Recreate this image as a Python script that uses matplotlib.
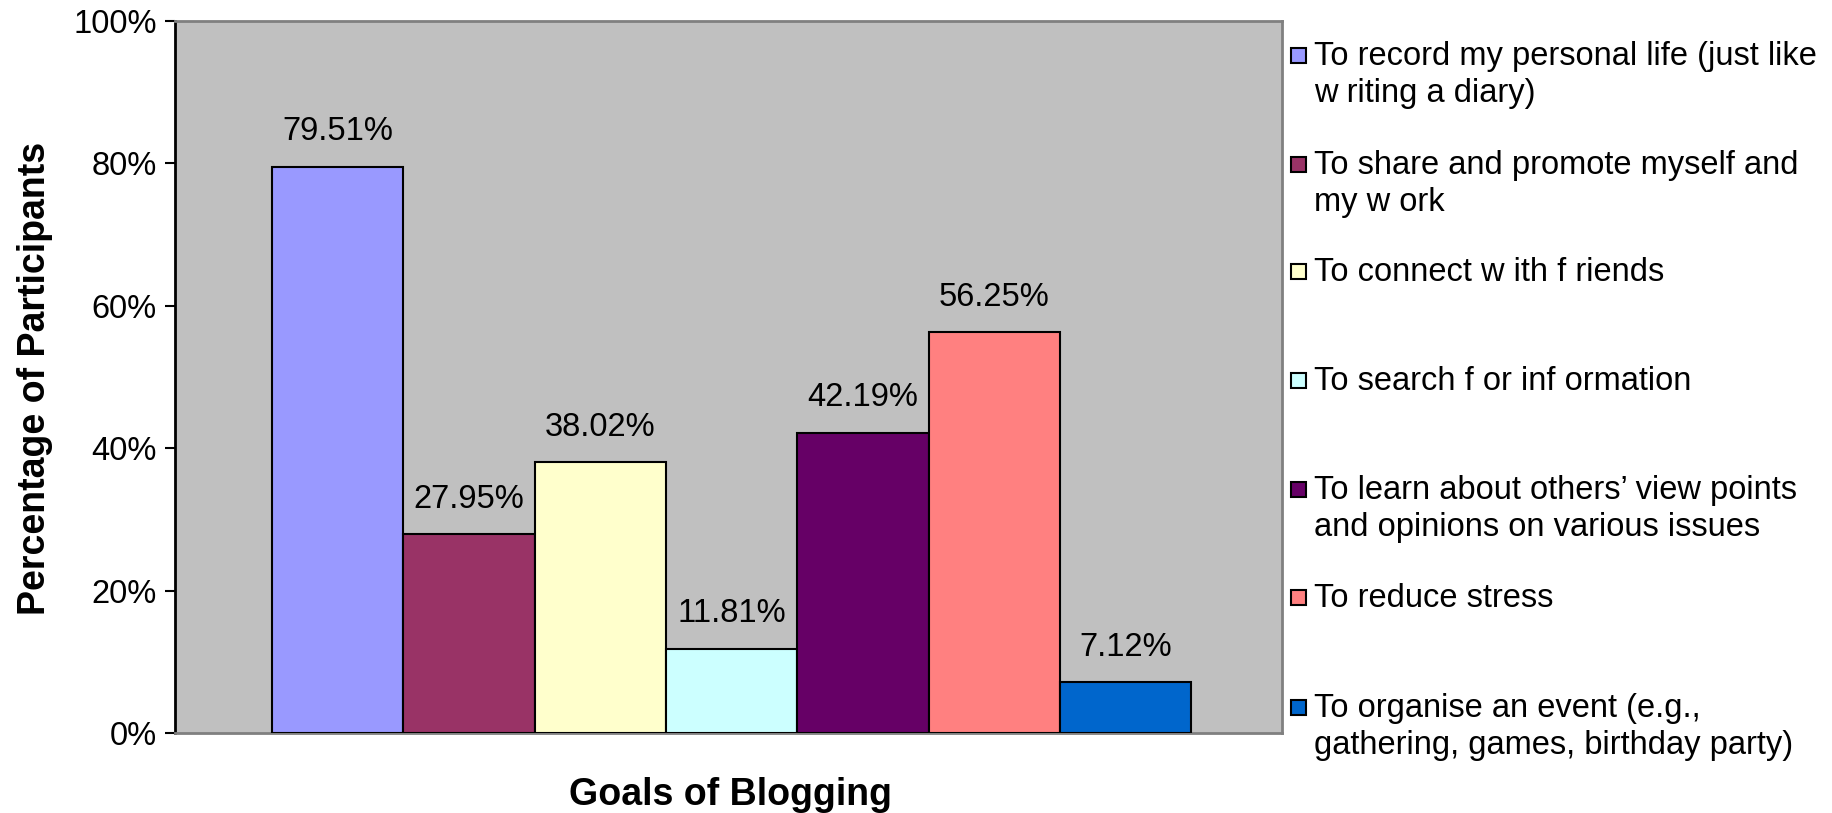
import matplotlib.pyplot as plt
from matplotlib.patches import Rectangle

plt.rcParams['font.family'] = ['Liberation Sans', 'DejaVu Sans']

# goals of blogging, share of participants (%)
goals = [
    "To record my personal life (just like\nw riting a diary)",
    "To share and promote myself and\nmy w ork",
    "To connect w ith f riends",
    "To search f or inf ormation",
    "To learn about others\u2019 view points\nand opinions on various issues",
    "To reduce stress",
    "To organise an event (e.g.,\ngathering, games, birthday party)",
]
percent = [79.51, 27.95, 38.02, 11.81, 42.19, 56.25, 7.12]
colours = ['#9999FF', '#993366', '#FFFFCC', '#CCFFFF', '#660066', '#FF8080', '#0066CC']
yticks = [0, 20, 40, 60, 80, 100]

W, H = 1833, 813
fig = plt.figure(figsize=(W / 100, H / 100), dpi=100)
ax = fig.add_axes([175 / W, 1 - 733 / H, (1282 - 175) / W, (733 - 21) / H])
ax.set_facecolor('#C0C0C0')

x = list(range(len(percent)))
bars = ax.bar(x, percent, width=1.0, color=colours, edgecolor='black', linewidth=1.5, zorder=3)
for b, v in zip(bars, percent):
    ax.annotate(f"{v:.2f}%", (b.get_x() + b.get_width() / 2, v), xytext=(0, 14),
                textcoords='offset points', ha='center', va='bottom', fontsize=23.5)

ax.set_xlim(-1.24, len(percent) - 1 + 0.5 + 0.69)
ax.set_ylim(0, 100)
ax.set_yticks(yticks)
ax.set_yticklabels([f"{t}%" for t in yticks], fontsize=23.5)
ax.set_xticks([])
ax.tick_params(axis='y', direction='out', length=7, width=1.5, pad=6)

for s in ['top', 'right', 'bottom']:
    ax.spines[s].set_color('#808080')
    ax.spines[s].set_linewidth(2)
ax.spines['left'].set_color('black')
ax.spines['left'].set_linewidth(2)

# axis titles
fig.text(35 / W, 1 - 378 / H, "Percentage of Participants", rotation=90,
         ha='center', va='center', fontsize=27, fontweight='bold')
fig.text(731 / W, 1 - 795 / H, "Goals of Blogging",
         ha='center', va='center', fontsize=27, fontweight='bold')

# legend laid out by hand, Excel style
entry_y = [55, 164, 271, 380, 489, 597, 707]
for g, c, yy in zip(goals, colours, entry_y):
    fig.patches.append(Rectangle((1291 / W, 1 - (yy + 8) / H), 15 / W, 15 / H,
                                 transform=fig.transFigure, facecolor=c,
                                 edgecolor='black', linewidth=1.5))
    fig.text(1314 / W, 1 - (yy - 14) / H, g, fontsize=23.5, va='top', ha='left',
             linespacing=1.25)

fig.savefig('out.png', dpi=100)
